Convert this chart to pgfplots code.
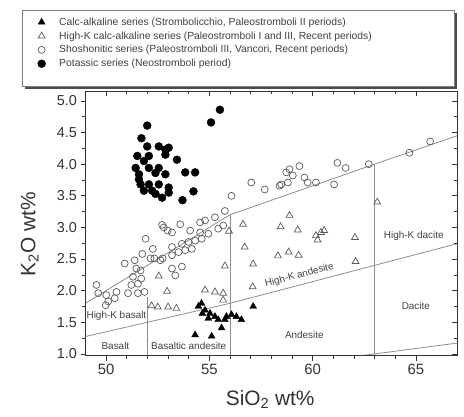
\documentclass[border=0pt]{standalone}
\usepackage{fontspec}
\setmainfont{Liberation Sans}
\usepackage{pgfplots}
\pgfplotsset{compat=1.18}
\begin{document}
\begin{tikzpicture}
\path (0,0) rectangle (464pt,419pt);
% legend frame with shadow
\fill[black!70] (25pt,329pt) rectangle (460pt,406pt);
\draw[black!50, fill=white, line width=0.6pt] (22pt,332pt) rectangle (457pt,409pt);
\pgfplotsset{
 common/.style={at={(86pt,61pt)}, anchor=south west, scale only axis,
   width=374pt, height=266pt, xmin=49, xmax=67, ymin=0.97, ymax=5.15,
   xtick={50,55,60,65}, minor x tick num=4,
   ytick={1,1.5,2,2.5,3,3.5,4,4.5,5}, minor y tick num=1,
   major tick length=5pt, minor tick length=3pt,
   axis line style={black!80, line width=0.8pt},
   every tick/.style={black!80, line width=0.6pt}},
 myleg/.style={legend image code/.code={\path (-13.5pt,0pt) (16pt,0pt); \draw[##1] plot coordinates {(0pt,0pt)};}},
}
\begin{axis}[common, xtick pos=left, ytick pos=left, tick align=outside,
  /pgf/number format/assume math mode=true,
  yticklabel style={/pgf/number format/fixed, /pgf/number format/fixed zerofill, /pgf/number format/precision=1},
  xticklabel style={font=\fontsize{15}{15}\selectfont, text=black!80},
  yticklabel style={font=\fontsize{14.5}{14.5}\selectfont, text=black!80},
  xlabel={SiO\textsubscript{2} wt\%}, ylabel={K\textsubscript{2}O wt\%},
  xlabel style={font=\fontsize{21}{21}\selectfont, at={(axis description cs:0.497,-0.165)}, anchor=center, text=black!80},
  ylabel style={font=\fontsize{21}{21}\selectfont, at={(axis description cs:-0.15,0.46)}, anchor=center, rotate=0, text=black!80},
  legend cell align=left,
  legend style={at={(axis description cs:-0.1711,1.3083)}, anchor=north west,
    draw=none, fill=none, font=\fontsize{10.4}{11}\selectfont,
    text=black!75, row sep=1.7pt, inner xsep=6pt, inner ysep=6pt,
    nodes={inner xsep=1.5pt, inner ysep=1.6pt}},
  ]
% classification lines
\addplot[black!45, line width=0.8pt, forget plot] coordinates {(49,1.275)(52,1.5)(56,1.8)(63,2.4)(67,2.743)};
\addplot[black!45, line width=0.8pt, forget plot] coordinates {(49,1.8)(52,2.4)(56,3.2)(63,4.0)(67,4.45)};
\addplot[black!45, line width=0.8pt, forget plot] coordinates {(56,0.7)(63,1.0)(67,1.171)};
\addplot[black!45, line width=0.8pt, forget plot] coordinates {(52,0.9)(52,1.9)};
\addplot[black!45, line width=0.8pt, forget plot] coordinates {(56,0.9)(56,3.2)};
\addplot[black!45, line width=0.8pt, forget plot] coordinates {(63,0.9)(63,4.0)};
% field labels
\node[font=\fontsize{10}{10}\selectfont, text=black!75] at (axis cs:50.45,1.13) {Basalt};
\node[font=\fontsize{10}{10}\selectfont, text=black!75] at (axis cs:54.0,1.13) {Basaltic andesite};
\node[font=\fontsize{10}{10}\selectfont, text=black!75] at (axis cs:50.5,1.6) {High-K basalt};
\node[font=\fontsize{10}{10}\selectfont, text=black!75, rotate=14.6] at (axis cs:59.36,2.24) {High-K andesite};
\node[font=\fontsize{10}{10}\selectfont, text=black!75] at (axis cs:59.6,1.30) {Andesite};
\node[font=\fontsize{10}{10}\selectfont, text=black!75] at (axis cs:65.0,1.76) {Dacite};
\node[font=\fontsize{10}{10}\selectfont, text=black!75] at (axis cs:64.9,2.87) {High-K dacite};
% calc-alkaline
\addplot[only marks, myleg, mark=triangle*, mark size=4pt, mark options={fill=black, draw=black}] coordinates {
(54.31,1.30)(55.11,1.28)(55.59,1.41)(54.47,1.75)(54.79,1.69)(55.03,1.64)(55.27,1.59)
(54.95,1.56)(55.83,1.59)(56.07,1.62)(56.31,1.59)(56.55,1.54)(55.75,1.54)(55.43,1.54)
(57.12,1.75)(54.62,1.80)(54.66,1.64)};
\addlegendentry{Calc-alkaline series (Strombolicchio, Paleostromboli II periods)}
% high-K calc-alkaline
\addplot[only marks, myleg, mark=triangle, mark size=4pt, mark options={draw=black!65, line width=0.7pt}] coordinates {
(63.13,3.40)(56.63,3.05)(58.88,3.19)(58.45,3.01)(59.28,2.96)(60.16,2.87)(60.40,2.92)
(60.56,2.95)(60.24,2.80)(62.05,2.84)(56.71,2.69)(57.12,2.42)(58.32,2.55)(58.84,2.61)
(59.32,2.56)(62.08,2.46)(57.10,2.06)(55.75,2.39)(54.79,2.01)(55.27,1.98)(55.67,1.96)
(55.67,1.85)(52.55,2.23)(52.95,1.99)(52.2,1.76)(52.5,1.74)(53.0,1.74)(53.4,1.72)(55.95,2.94)};
\addlegendentry{High-K calc-alkaline series (Paleostromboli I and III, Recent periods)}
% shoshonitic
\addplot[only marks, myleg, mark=o, mark size=3.5pt, mark options={draw=black!65, line width=0.7pt}] coordinates {
(65.69,4.36)(64.69,4.18)(62.72,4.00)(61.20,4.02)(61.60,3.94)(61.04,3.68)
(58.88,3.92)(59.36,3.97)(59.04,3.82)(58.72,3.87)(58.48,3.68)(58.80,3.71)(59.60,3.79)
(59.76,3.71)(60.16,3.71)(58.40,3.66)(57.68,3.60)(57.03,3.71)(56.07,3.50)(55.75,3.26)
(55.27,3.16)(54.79,3.11)
(54.55,3.08)(53.59,3.05)(52.79,3.00)(53.19,2.92)(54.07,2.95)(54.55,2.92)(54.95,2.90)
(55.43,2.98)(55.67,3.03)(52.98,2.95)(52.71,3.04)
(51.91,2.82)(53.19,2.69)(53.67,2.74)(53.99,2.77)(54.31,2.79)(54.63,2.82)
(52.15,2.51)(52.63,2.48)(53.19,2.56)(53.51,2.61)(53.83,2.64)(54.15,2.66)(51.75,2.58)
(53.19,2.35)(53.67,2.38)(53.35,2.24)(51.67,2.32)
(52.26,2.66)(52.34,2.51)(52.74,2.51)(51.38,2.48)(50.90,2.43)(51.46,2.35)
(51.30,2.22)(51.22,2.09)(51.54,2.11)(51.70,2.19)(51.06,1.96)(51.54,1.96)(51.86,1.98)
(49.53,2.09)(49.62,1.96)(50.10,1.83)(50.50,1.98)(50.42,1.88)(50.01,1.93)(49.98,1.77)};
\addlegendentry{Shoshonitic series (Paleostromboli III, Vancori, Recent periods)}
% potassic
\addplot[only marks, myleg, mark=*, mark size=4pt, mark options={fill=black, draw=black}] coordinates {
(55.51,4.86)(55.08,4.66)(51.99,4.61)(53.43,4.07)(53.83,3.87)(54.31,3.87)(54.23,3.57)
(53.70,3.43)(52.87,4.23)
(51.71,4.41)(51.99,4.28)(52.55,4.28)(53.03,4.26)(52.87,4.15)(51.51,4.13)(51.83,4.05)
(51.43,3.94)(52.07,3.94)(52.55,3.94)(51.59,3.84)(52.39,3.86)(52.87,3.84)
(51.67,3.68)(52.07,3.68)(52.55,3.68)(53.03,3.63)(51.83,3.58)(52.39,3.53)(52.71,3.47)
(53.03,3.55)(52.23,3.58)(51.59,3.76)(52.07,4.13)};
\addlegendentry{Potassic series (Neostromboli period)}
\end{axis}
\begin{axis}[common, xtick pos=right, ytick pos=right, tick align=inside,
  xticklabels={}, yticklabels={}]
\end{axis}
\end{tikzpicture}
\end{document}
